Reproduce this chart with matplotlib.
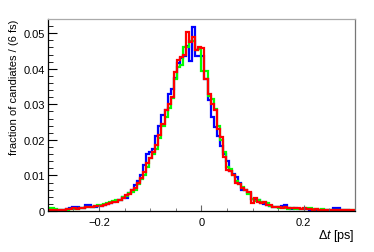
import matplotlib
matplotlib.use('Agg')
import matplotlib.pyplot as plt
import numpy as np
from matplotlib.ticker import MultipleLocator

plt.rcParams['font.family'] = ['Liberation Sans', 'DejaVu Sans']
plt.rcParams['mathtext.fontset'] = 'custom'
plt.rcParams['mathtext.rm'] = 'Liberation Sans'
plt.rcParams['mathtext.it'] = 'Liberation Sans:italic'

# Histogramas: 100 bins de 6 fs entre -0.3 y 0.3 ps
x_min, x_max, n_bins = -0.3, 0.3, 100

red = [
    0.0003, 0.0002, 0.0003, 0.0002, 0.0004, 0.0003, 0.0005, 0.0006, 0.0008, 0.0007,
    0.0008, 0.0009, 0.0010, 0.0011, 0.0012, 0.0013, 0.0014, 0.0014, 0.0018, 0.0020,
    0.0022, 0.0024, 0.0026, 0.0030, 0.0038, 0.0044, 0.0048, 0.0058, 0.0066, 0.0078,
    0.0092, 0.0110, 0.0135, 0.0150, 0.0165, 0.0185, 0.0215, 0.0245, 0.0284, 0.0302,
    0.0320, 0.0390, 0.0424, 0.0434, 0.0440, 0.0503, 0.0475, 0.0489, 0.0452, 0.0460,
    0.0459, 0.0372, 0.0330, 0.0301, 0.0283, 0.0231, 0.0209, 0.0153, 0.0115, 0.0112,
    0.0101, 0.0078, 0.0076, 0.0064, 0.0060, 0.0054, 0.0022, 0.0037, 0.0026, 0.0022,
    0.0024, 0.0017, 0.0017, 0.0012, 0.0012, 0.0012, 0.0009, 0.0010, 0.0009, 0.0008,
    0.0009, 0.0008, 0.0007, 0.0008, 0.0006, 0.0005, 0.0004, 0.0005, 0.0003, 0.0004,
    0.0003, 0.0004, 0.0003, 0.0002, 0.0003, 0.0003, 0.0002, 0.0003, 0.0002, 0.0002,
]

blue = [
    0.0002, 0.0003, 0.0002, 0.0003, 0.0003, 0.0004, 0.0005, 0.0009, 0.0012, 0.0012,
    0.0008, 0.0009, 0.0018, 0.0018, 0.0012, 0.0012, 0.0013, 0.0015, 0.0016, 0.0019,
    0.0022, 0.0025, 0.0028, 0.0030, 0.0040, 0.0036, 0.0052, 0.0058, 0.0072, 0.0085,
    0.0100, 0.0130, 0.0160, 0.0165, 0.0175, 0.0210, 0.0240, 0.0270, 0.0285, 0.0329,
    0.0343, 0.0374, 0.0415, 0.0430, 0.0435, 0.0465, 0.0422, 0.0517, 0.0437, 0.0436,
    0.0437, 0.0370, 0.0312, 0.0264, 0.0236, 0.0210, 0.0183, 0.0160, 0.0141, 0.0113,
    0.0105, 0.0095, 0.0080, 0.0060, 0.0058, 0.0050, 0.0035, 0.0030, 0.0030, 0.0022,
    0.0020, 0.0018, 0.0015, 0.0012, 0.0011, 0.0010, 0.0015, 0.0016, 0.0008, 0.0007,
    0.0008, 0.0006, 0.0007, 0.0006, 0.0005, 0.0004, 0.0004, 0.0003, 0.0004, 0.0003,
    0.0003, 0.0002, 0.0004, 0.0008, 0.0008, 0.0003, 0.0002, 0.0002, 0.0001, 0.0001,
]

green = [
    0.0008, 0.0008, 0.0006, 0.0004, 0.0003, 0.0003, 0.0004, 0.0005, 0.0006, 0.0007,
    0.0008, 0.0009, 0.0010, 0.0010, 0.0012, 0.0014, 0.0016, 0.0018, 0.0020, 0.0022,
    0.0025, 0.0028, 0.0030, 0.0032, 0.0040, 0.0042, 0.0050, 0.0054, 0.0060, 0.0075,
    0.0090, 0.0100, 0.0125, 0.0150, 0.0160, 0.0175, 0.0205, 0.0240, 0.0265, 0.0290,
    0.0318, 0.0371, 0.0404, 0.0410, 0.0460, 0.0460, 0.0478, 0.0478, 0.0453, 0.0455,
    0.0394, 0.0394, 0.0324, 0.0315, 0.0287, 0.0240, 0.0200, 0.0165, 0.0125, 0.0118,
    0.0100, 0.0085, 0.0075, 0.0068, 0.0058, 0.0048, 0.0035, 0.0028, 0.0030, 0.0025,
    0.0025, 0.0022, 0.0015, 0.0012, 0.0010, 0.0009, 0.0008, 0.0009, 0.0007, 0.0008,
    0.0007, 0.0006, 0.0007, 0.0006, 0.0008, 0.0009, 0.0006, 0.0005, 0.0004, 0.0005,
    0.0004, 0.0003, 0.0004, 0.0003, 0.0004, 0.0003, 0.0003, 0.0003, 0.0002, 0.0002,
]

x_ticks = [-0.2, 0.0, 0.2]
x_ticklabels = ['\u22120.2', '0', '0.2']
y_ticks = [0.0, 0.01, 0.02, 0.03, 0.04, 0.05]
y_ticklabels = ['0', '0.01', '0.02', '0.03', '0.04', '0.05']

edges = np.linspace(x_min, x_max, n_bins + 1)

fig = plt.figure(figsize=(3.74, 2.53), dpi=100)
ax = fig.add_axes([0.128, 0.162, 0.821, 0.759])

# Dibujar los histogramas
for vals, col in [(blue, '#0000ff'), (green, '#00ff00'), (red, '#ff0000')]:
    ax.stairs(vals, edges, color=col, linewidth=1.6, baseline=0)

ax.set_xlim(x_min, x_max)
ax.set_ylim(0, 0.054)

ax.set_xticks(x_ticks)
ax.set_xticklabels(x_ticklabels)
ax.set_yticks(y_ticks)
ax.set_yticklabels(y_ticklabels)
ax.xaxis.set_minor_locator(MultipleLocator(0.05))
ax.yaxis.set_minor_locator(MultipleLocator(0.002))

ax.tick_params(axis='x', which='major', direction='in', length=4.5, pad=4,
               labelsize=8, color='#666666')
ax.tick_params(axis='x', which='minor', direction='in', length=2.2, color='#666666')
ax.tick_params(axis='y', which='major', direction='in', length=6.5, pad=2, labelsize=8)
ax.tick_params(axis='y', which='minor', direction='in', length=3.3)

# Estilo de marco tipo ROOT
ax.spines['top'].set_color('#aaaaaa')
ax.spines['right'].set_color('#777777')
for s in ax.spines.values():
    s.set_linewidth(0.9)

ax.set_ylabel('fraction of candiates / (6 fs)', fontsize=8, loc='top')
ax.yaxis.set_label_coords(-0.095, 1.0)
ax.set_xlabel(r'$\Delta t$ [ps]', fontsize=9, loc='right')
ax.xaxis.set_label_coords(1.0, -0.083)

plt.savefig('out.png', dpi=100)
